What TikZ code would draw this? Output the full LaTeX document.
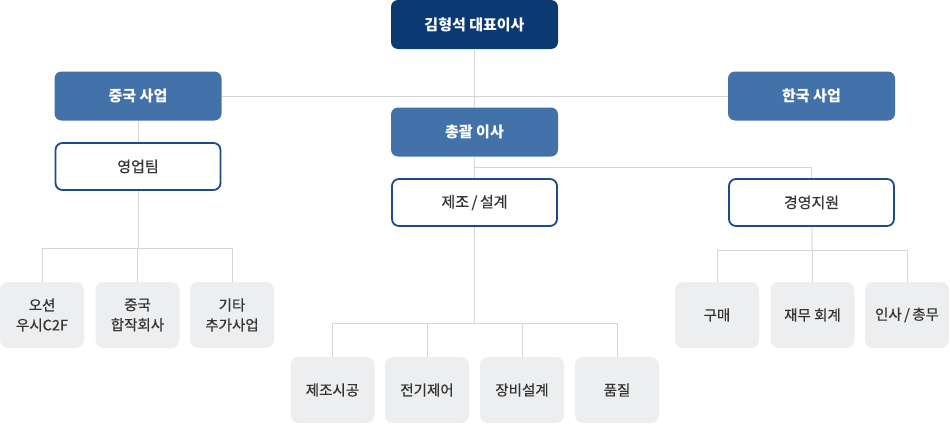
\documentclass[tikz,border=0pt]{standalone}
\usepackage{fontspec}
\setmainfont{Noto Sans CJK KR}
\newfontfamily\medfont[FakeBold=0.5]{Noto Sans CJK KR}
\definecolor{navy}{HTML}{0B3A72}
\definecolor{midblue}{HTML}{4372AB}
\definecolor{edgeblue}{HTML}{1A4C8C}
\definecolor{boxgray}{HTML}{EDEEF0}
\definecolor{linegray}{HTML}{D6D6D6}
\definecolor{txt}{HTML}{333333}
\begin{document}
\begin{tikzpicture}[x=1pt, y=-1pt,
  box/.style={inner sep=0pt, minimum width=167pt, minimum height=49pt, rounded corners=7pt, font=\medfont\fontsize{15}{18}\selectfont},
  head/.style={box, fill=navy, text=white, font=\fontsize{15}{18}\selectfont\bfseries},
  unit/.style={box, fill=midblue, text=white, font=\fontsize{15}{18}\selectfont\bfseries},
  team/.style={box, draw=edgeblue, line width=1.8pt, fill=white, text=txt, minimum width=165pt, minimum height=47pt},
  part/.style={inner sep=0pt, minimum width=84pt, minimum height=66pt, rounded corners=8pt, fill=boxgray, text=txt, align=center, font=\medfont\fontsize{14.5}{20}\selectfont},
  link/.style={draw=linegray, line width=1pt}]
\useasboundingbox (0,0) rectangle (950,423);
\coordinate (salesbus) at (138,248);
\coordinate (mfgbus) at (474.5,323);
\coordinate (mgmtbus) at (812,250);
\coordinate (split) at (474.5,167);

\node[head] (ceo) at (474.5,24.5) {김형석 대표이사};
\node[unit] (china) at (138,96) {중국 사업};
\node[unit] (korea) at (811.5,96) {한국 사업};
\node[unit] (chief) at (474.5,132) {총괄 이사};
\node[team] (sales) at (138,166.5) {영업팀};
\node[team] (mfg) at (474.5,202.5) {제조\,/\,설계};
\node[team] (mgmt) at (811.5,202.5) {경영지원};

\node[part] (ocean) at (42,315) {오션\\우시C2F};
\node[part] (joint) at (137.5,315) {중국\\합작회사};
\node[part] (etc) at (232,315) {기타\\추가사업};

\node[part] (build) at (332.5,390) {제조시공};
\node[part] (elec) at (427,390) {전기제어};
\node[part] (equip) at (522,390) {장비설계};
\node[part] (qual) at (617,390) {품질};

\node[part] (buy) at (717,315) {구매};
\node[part] (fin) at (812.5,315) {재무 회계};
\node[part] (hr) at (907,315) {인사\,/\,총무};

% connectors
\draw[link] (ceo) -- (chief);
\draw[link] (china) -- (korea);
\draw[link] (chief) -- (mfg);
\draw[link] (split) -| (mgmt);
\draw[link] (china) -- (sales);
\draw[link] (sales) -- (salesbus);
\foreach \n in {ocean,joint,etc} \draw[link] (salesbus) -| (\n);
\draw[link] (mfg) -- (mfgbus);
\foreach \n in {build,elec,equip,qual} \draw[link] (mfgbus) -| (\n);
\draw[link] (mgmt) -- (mgmtbus);
\foreach \n in {buy,fin,hr} \draw[link] (mgmtbus) -| (\n);
\end{tikzpicture}
\end{document}
